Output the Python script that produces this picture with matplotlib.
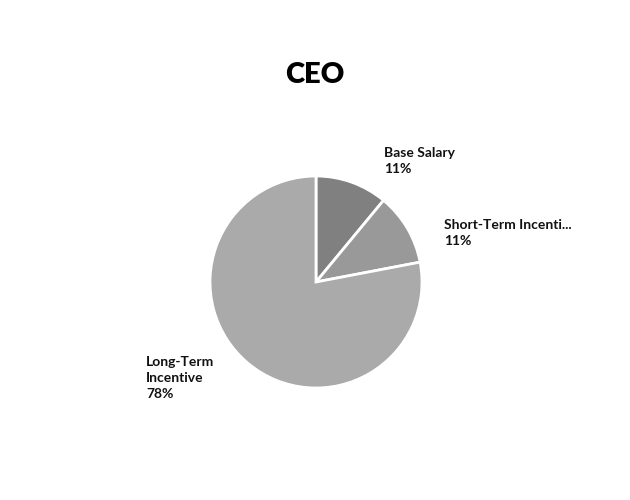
import matplotlib
matplotlib.use("Agg")
import matplotlib.pyplot as plt

categories = ["Base Salary", "Short-Term Incentive", "Long-Term Incentive"]
values = [11, 11, 78]
display_labels = ["Base Salary\n11%", "Short-Term Incenti...\n11%", "Long-Term\nIncentive\n78%"]
colors = ["#808080", "#999999", "#aaaaaa"]
title = "CEO"

plt.rcParams['font.family'] = ['Lato', 'DejaVu Sans']

fig = plt.figure(figsize=(6.3, 5.0), dpi=100)
ax = fig.add_axes([0, 0, 1, 1])
ax.set_xlim(0, 630)
ax.set_ylim(0, 500)
ax.axis('off')

ax.pie(values, colors=colors, startangle=90, counterclock=False,
       center=(316, 500 - 282), radius=106,
       wedgeprops=dict(edgecolor='white', linewidth=2))
ax.set_xlim(0, 630)
ax.set_ylim(0, 500)
ax.set_aspect('auto')

label_pos = [(384, 500 - 147), (444, 500 - 219), (146, 500 - 356)]
for lbl, (x, y) in zip(display_labels, label_pos):
    ax.text(x, y, lbl, ha='left', va='top', fontsize=10, fontweight='bold',
            color='#111111', linespacing=1.4)

ax.text(315, 500 - 75, title, ha='center', va='center', fontsize=21,
        fontweight='heavy', color='black')

fig.savefig("out.png", dpi=100)
